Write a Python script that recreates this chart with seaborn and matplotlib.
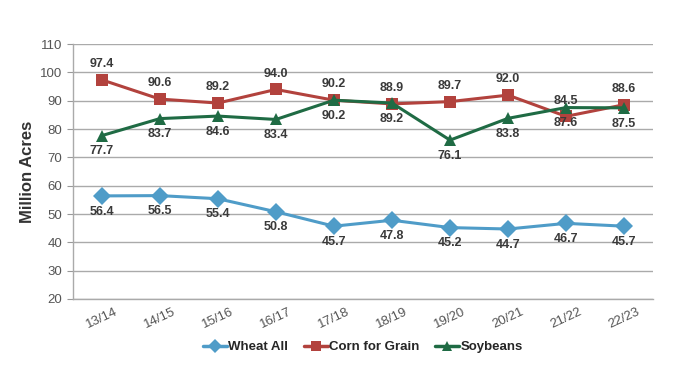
import numpy as np
import pandas as pd
import matplotlib
matplotlib.use("Agg")
import matplotlib.pyplot as plt
import seaborn as sns

# --- data ---
years = ["13/14", "14/15", "15/16", "16/17", "17/18",
         "18/19", "19/20", "20/21", "21/22", "22/23"]
wheat = [56.4, 56.5, 55.4, 50.8, 45.7, 47.8, 45.2, 44.7, 46.7, 45.7]
corn = [97.4, 90.6, 89.2, 94.0, 90.2, 88.9, 89.7, 92.0, 84.5, 88.6]
soy = [77.7, 83.7, 84.6, 83.4, 90.2, 89.2, 76.1, 83.8, 87.6, 87.5]

series_names = ["Wheat All", "Corn for Grain", "Soybeans"]
colors = {"Wheat All": "#4f9cc8", "Corn for Grain": "#b2423d", "Soybeans": "#1f6b44"}
markers = {"Wheat All": "D", "Corn for Grain": "s", "Soybeans": "^"}
label_side = {"Wheat All": -1, "Corn for Grain": 1, "Soybeans": -1}

df = pd.DataFrame({
    "year": years * 3,
    "x": list(range(len(years))) * 3,
    "acres": wheat + corn + soy,
    "crop": sum([[n] * len(years) for n in series_names], []),
})

sns.set_style("white")
plt.rcParams["font.family"] = ["Liberation Sans Narrow", "Liberation Sans", "DejaVu Sans"]

fig = plt.figure(figsize=(7, 3.65), dpi=100)
ax = fig.add_axes([0.104, 0.181, 0.829, 0.698])

sns.lineplot(data=df, x="x", y="acres", hue="crop", style="crop",
             palette=colors, markers=markers, dashes=False,
             hue_order=series_names, style_order=series_names,
             linewidth=2.2, markersize=9, markeredgewidth=0, ax=ax)

# data labels
for name in series_names:
    sub = df[df["crop"] == name]
    for xi, yi in zip(sub["x"], sub["acres"]):
        off = 7 if label_side[name] > 0 else -7
        ax.annotate(f"{yi:.1f}", (xi, yi), xytext=(0, off), textcoords="offset points",
                    ha="center", va="bottom" if off > 0 else "top",
                    fontsize=9, fontweight="bold", color="#3a3a3a")

ax.set_xlim(-0.5, len(years) - 0.5)
ax.set_ylim(20, 110)
ax.set_yticks(np.arange(20, 111, 10))
ax.set_xticks(range(len(years)))
ax.set_xticklabels(years, rotation=25, fontsize=9.5, color="#555555")
ax.set_xticks(np.arange(-0.5, len(years), 1), minor=True)
ax.tick_params(axis="x", which="major", length=0, pad=5)
ax.tick_params(axis="x", which="minor", length=4, color="#999999", direction="out")
ax.tick_params(axis="y", length=4, color="#999999", labelsize=9.5, labelcolor="#555555",
               left=True, direction="out")

ax.grid(axis="y", color="#aaaaaa", linewidth=1)
ax.set_axisbelow(True)
for s in ["top", "right"]:
    ax.spines[s].set_visible(False)
for s in ["left", "bottom"]:
    ax.spines[s].set_color("#aaaaaa")
    ax.spines[s].set_linewidth(1)

ax.set_xlabel("")
ax.set_ylabel("Million Acres", fontsize=12, fontweight="bold", color="#333333", labelpad=4)

handles, labels = ax.get_legend_handles_labels()
leg = ax.legend(handles, labels, loc="center", bbox_to_anchor=(0.5, -0.19), ncol=3,
                frameon=False, handlelength=1.8, handletextpad=0.1, markerscale=0.8,
                columnspacing=1.2, prop={"weight": "bold", "size": 9.5})
for h in leg.legend_handles:
    h.set_linewidth(2.5)

fig.savefig("out.png", dpi=100)
